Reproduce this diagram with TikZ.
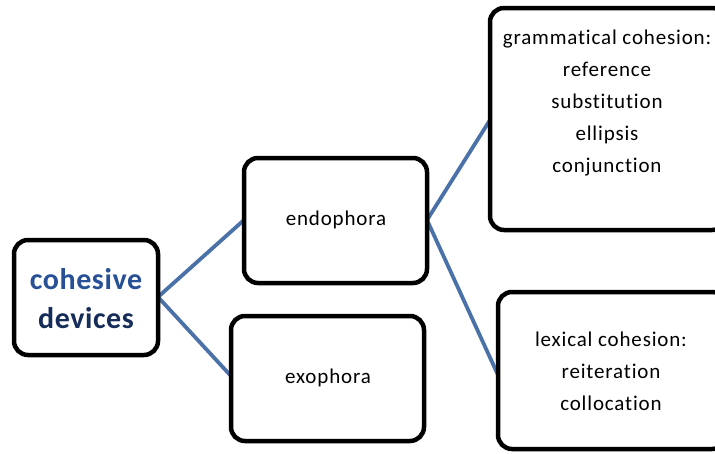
\documentclass[tikz,border=0pt]{standalone}
\usepackage{fontspec}
\setmainfont[Ligatures={NoCommon},LetterSpace=4]{Carlito}
\newfontfamily\boldfam[Ligatures={NoCommon},LetterSpace=2]{Carlito}
\definecolor{conn}{RGB}{74,114,168}
\definecolor{navyA}{RGB}{40,80,150}
\definecolor{navyB}{RGB}{22,45,90}
\begin{document}
\begin{tikzpicture}[x=1pt,y=-1pt,
  boxst/.style={draw=black,line width=4.5pt,rounded corners=14pt,fill=white},
  connst/.style={draw=conn,line width=3.8pt},
  txt/.style={font=\fontsize{21}{32}\selectfont,align=center,text=black},
  big/.style={font=\boldfam\fontsize{30}{34}\selectfont\bfseries}]
\useasboundingbox (0,0) rectangle (715,453);
\clip (0,0) rectangle (715,453);
\coordinate (cdR) at (158,297);
\coordinate (enL) at (244,220);
\coordinate (exL) at (231,376);
\coordinate (enR) at (427,220);
\coordinate (grL) at (490,120);
\coordinate (lxL) at (498,375);
\draw[connst] (cdR) -- (enL);
\draw[connst] (cdR) -- (exL);
\draw[connst] (enR) -- (grL);
\draw[connst] (enR) -- (lxL);
\draw[boxst] (14,240) rectangle (158,355);
\draw[boxst] (244,158) rectangle (427,283);
\draw[boxst] (231,316) rectangle (424,441);
\draw[boxst] (490,8) rectangle (726,230);
\draw[boxst] (498,292) rectangle (726,449);
\node[big,text=navyA] (cd1) at (86,279) {cohesive};
\node[big,text=navyB] (cd2) at (86,318) {devices};
\node[txt] (en) at (336,220) {endophora};
\node[txt] (ex) at (328,378) {exophora};
\node[txt] (gr) at (607,103) {grammatical cohesion:\\reference\\substitution\\ellipsis\\conjunction};
\node[txt] (lx) at (611,371) {lexical cohesion:\\reiteration\\collocation};
\end{tikzpicture}
\end{document}
